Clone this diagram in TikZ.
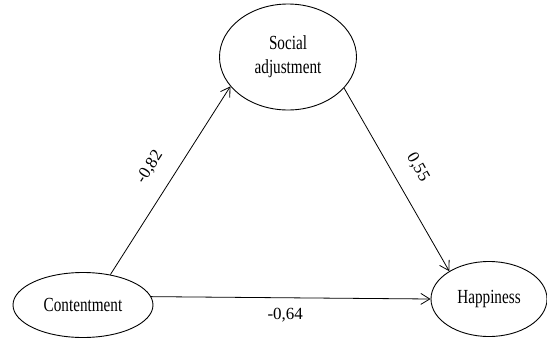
\documentclass[tikz,border=0pt]{standalone}
\usepackage{fontspec}
\setmainfont{Liberation Serif}
\newfontfamily\nodefont[FakeStretch=0.76]{Liberation Serif}
\usetikzlibrary{arrows.meta, shapes.geometric, positioning}

\begin{document}
\begin{tikzpicture}[
        x=1pt, y=-1pt,
        latent/.style={ellipse, draw=black, line width=0.9pt, inner sep=0pt, align=center, font=\nodefont\fontsize{20}{24}\selectfont},
        effect/.style={-{Straight Barb[length=9pt, width=11pt]}, line width=0.8pt},
        coef/.style={font=\fontsize{17}{19}\selectfont, inner sep=0pt}
    ]
        \useasboundingbox (0,0) rectangle (547,338);

        % Variables
        \node[latent, minimum width=137pt, minimum height=106pt] (social) at (288,57) {Social\\adjustment};
        \node[latent, minimum width=140pt, minimum height=65pt] (content) at (83,305) {Contentment};
        \node[latent, minimum width=116pt, minimum height=75pt] (happy) at (489,299) {Happiness};

        % Paths
        \draw[effect] (content.48) -- (social.207)
            node[coef, midway, sloped, above=17pt] {-0,82};
        \draw[effect] (social.331) -- (happy.145)
            node[coef, midway, sloped, above=17pt] {0,55};
        \draw[effect] (content.7) -- (happy.180)
            node[coef, pos=0.48, below=10pt] {-0,64};

    \end{tikzpicture}
\end{document}
